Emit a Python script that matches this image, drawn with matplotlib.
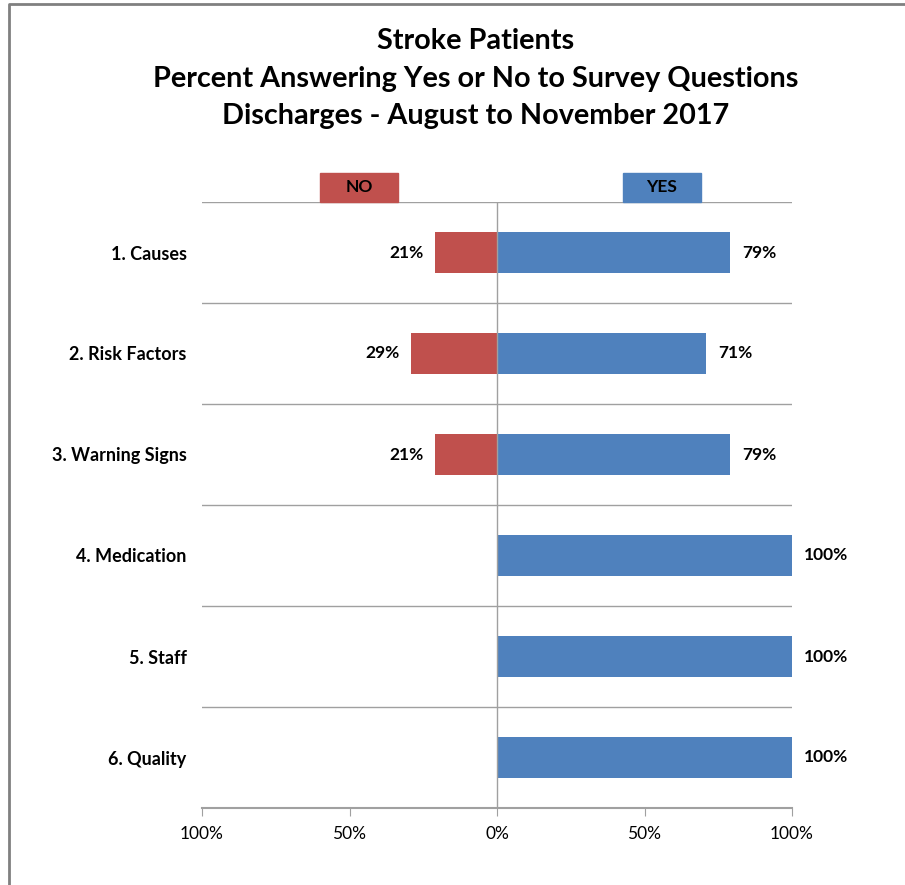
import matplotlib.pyplot as plt
from matplotlib.patches import Rectangle
from matplotlib.lines import Line2D
import numpy as np

# Survey data
questions = ['1. Causes', '2. Risk Factors', '3. Warning Signs',
             '4. Medication', '5. Staff', '6. Quality']
pct_no = [21, 29, 21, 0, 0, 0]
pct_yes = [79, 71, 79, 100, 100, 100]
tick_vals = [-100, -50, 0, 50, 100]
tick_labels = ['100%', '50%', '0%', '50%', '100%']

red = '#C0504D'
blue = '#4F81BD'
grid_col = '#A0A0A0'

plt.rcParams['font.family'] = ['Lato', 'DejaVu Sans']

fig = plt.figure(figsize=(9.05, 8.85), dpi=100)
ax = fig.add_axes([202 / 905, 1 - 808 / 885, 590 / 905, 606 / 885])

y = np.arange(len(questions))
ax.barh(y, [-v for v in pct_no], height=0.4, color=red)
ax.barh(y, pct_yes, height=0.4, color=blue)

# value labels
for yi, n, p in zip(y, pct_no, pct_yes):
    if n > 0:
        ax.text(-n - 4, yi, f'{n}%', ha='right', va='center',
                fontsize=12.5, fontweight='bold')
    ax.text(p + 4, yi, f'{p}%', ha='left', va='center',
            fontsize=12.5, fontweight='bold')

ax.set_xlim(-100, 100)
ax.set_ylim(len(questions) - 0.5, -0.5)
ax.set_yticks(y)
ax.set_yticklabels(questions, fontsize=13, fontweight='bold')
ax.tick_params(axis='y', length=0, pad=11)
ax.set_xticks(tick_vals)
ax.set_xticklabels(tick_labels, fontsize=12.5)
ax.tick_params(axis='x', length=6, color=grid_col, pad=7)

# row separators
for b in np.arange(-0.5, len(questions) - 0.5, 1.0):
    ax.axhline(b, color=grid_col, lw=1, zorder=0)
ax.axvline(0, color=grid_col, lw=1, zorder=3)

for s in ['top', 'right', 'left']:
    ax.spines[s].set_visible(False)
ax.spines['bottom'].set_color(grid_col)
ax.spines['bottom'].set_linewidth(1.5)

# NO / YES header boxes
for x0, w, col, lab in [(-60, 26.5, red, 'NO'), (42.7, 26.3, blue, 'YES')]:
    ax.add_patch(Rectangle((x0, -0.5), w, -0.29, color=col, clip_on=False))
    ax.text(x0 + w / 2, -0.645, lab, ha='center', va='center',
            fontsize=12.5, fontweight='bold')

fig.suptitle('Stroke Patients\nPercent Answering Yes or No to Survey Questions\n'
             'Discharges - August to November 2017',
             x=476 / 905, y=1 - 28 / 885, va='top',
             fontsize=20.7, fontweight='bold', linespacing=1.55)

# chart border (only left and top visible in the crop)
fig.add_artist(Line2D([8.5 / 905, 8.5 / 905, 1.0], [0.0, 1 - 3.5 / 885, 1 - 3.5 / 885],
                      transform=fig.transFigure, color='#808080', lw=2))

plt.savefig('out.png', dpi=100)
